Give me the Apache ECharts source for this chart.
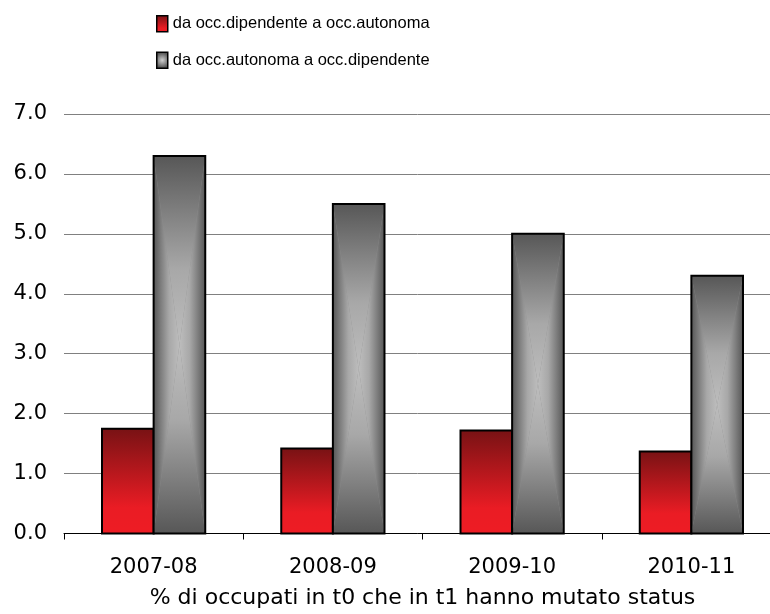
<!DOCTYPE html>
<html>
<head>
<meta charset="utf-8">
<script src="https://cdn.jsdelivr.net/npm/echarts@6/dist/echarts.min.js"></script>
<style>
  html, body { margin: 0; padding: 0; background: #fff; }
  #chart { width: 770px; height: 614px; }
</style>
</head>
<body>
<div id="chart"></div>
<script>
// Share of employed people (t0) who changed status by t1, per period
const categories = ['2007-08', '2008-09', '2009-10', '2010-11'];
const dipToAut = [1.75, 1.42, 1.72, 1.37];   // da occ.dipendente a occ.autonoma
const autToDip = [6.3, 5.5, 5.0, 4.3];       // da occ.autonoma a occ.dipendente
const seriesNames = ['da occ.dipendente a occ.autonoma', 'da occ.autonoma a occ.dipendente'];
const yTicks = [0, 1, 2, 3, 4, 5, 6, 7];
const xTitle = '% di occupati in t0 che in t1 hanno mutato status';

const AXIS_FONT = '"DejaVu Sans", Verdana, sans-serif';
const LEGEND_FONT = '"Liberation Sans", Arial, sans-serif';

const G = echarts.graphic;
const BAR_FRACTION = 0.288;   // width of one bar relative to the category band

const redStops = [
  { offset: 0, color: '#771214' },
  { offset: 0.75, color: '#ea1c24' },
  { offset: 1, color: '#ee1c24' }
];
const grayStops = [
  { offset: 0, color: '#575757' },
  { offset: 0.3, color: '#808080' },
  { offset: 0.6, color: '#a8a8a8' },
  { offset: 1, color: '#bdbdbd' }
];
const redFill = () => new G.LinearGradient(0, 0, 0, 1, redStops);

// Red bar: plain top-to-bottom gradient, left of the category centre
function renderRed(params, api) {
  const i = api.value(0);
  const top = api.coord([i, api.value(1)]);
  const base = api.coord([i, 0]);
  const bw = api.size([1, 0])[0] * BAR_FRACTION;
  const x0 = top[0] - bw, y0 = top[1], h = base[1] - top[1];
  return {
    type: 'rect',
    shape: { x: x0, y: y0, width: bw, height: h },
    style: { fill: redFill(), stroke: '#000', lineWidth: 2 }
  };
}

// Grey bar: path gradient, light in the middle and dark toward every edge
function renderGray(params, api) {
  const i = api.value(0);
  const top = api.coord([i, api.value(1)]);
  const base = api.coord([i, 0]);
  const bw = api.size([1, 0])[0] * BAR_FRACTION;
  const x0 = top[0], x1 = x0 + bw, y0 = top[1], y1 = base[1];
  const xc = (x0 + x1) / 2, yc = (y0 + y1) / 2;
  const tri = (pts, gx, gy, gx2, gy2) => ({
    type: 'polygon',
    shape: { points: pts },
    style: { fill: new G.LinearGradient(gx, gy, gx2, gy2, grayStops), stroke: null }
  });
  return {
    type: 'group',
    children: [
      { type: 'rect', shape: { x: x0, y: y0, width: bw, height: y1 - y0 }, style: { fill: '#8c8c8c' } },
      tri([[x0, y0], [x1, y0], [xc, yc]], 0, 0, 0, 1),
      tri([[x0, y1], [x1, y1], [xc, yc]], 0, 1, 0, 0),
      tri([[x0, y0], [xc, yc], [x0, y1]], 0, 0, 1, 0),
      tri([[x1, y0], [xc, yc], [x1, y1]], 1, 0, 0, 0),
      { type: 'rect', shape: { x: x0, y: y0, width: bw, height: y1 - y0 },
        style: { fill: null, stroke: '#000', lineWidth: 2 } }
    ]
  };
}

const chart = echarts.init(document.getElementById('chart'), null, { renderer: 'canvas' });

chart.setOption({
  animation: false,
  backgroundColor: '#fff',
  legend: {
    orient: 'vertical',
    left: 151,
    top: 10,
    itemWidth: 11,
    itemHeight: 16,
    itemGap: 19,
    icon: 'rect',
    textStyle: { fontFamily: LEGEND_FONT, fontSize: 16.5, color: '#000' },
    data: [
      { name: seriesNames[0], itemStyle: { color: redFill(), borderColor: '#000', borderWidth: 1.5 } },
      { name: seriesNames[1], itemStyle: {
          color: new G.RadialGradient(0.5, 0.5, 0.6, [
            { offset: 0, color: '#cfcfcf' }, { offset: 1, color: '#555' }
          ]),
          borderColor: '#000', borderWidth: 1.5 } }
    ]
  },
  // the plot runs a little past the right edge of the canvas
  grid: { left: 64, width: 717, top: 114, height: 419.5, outerBoundsMode: 'none', containLabel: false },
  xAxis: {
    type: 'category',
    data: categories,
    boundaryGap: true,
    axisLine: { show: true, lineStyle: { color: '#000', width: 1 } },
    axisTick: { show: true, length: 6, lineStyle: { color: '#000' } },
    axisLabel: { margin: 24, fontFamily: AXIS_FONT, fontSize: 21, color: '#000' },
    name: xTitle,
    nameLocation: 'middle',
    nameGap: 54,
    nameTextStyle: { fontFamily: AXIS_FONT, fontSize: 22, color: '#000' },
    splitLine: { show: false }
  },
  yAxis: {
    type: 'value',
    min: yTicks[0],
    max: yTicks[yTicks.length - 1],
    interval: 1,
    axisLine: { show: false },
    axisTick: { show: false },
    axisLabel: {
      margin: 17,
      padding: [5, 0, 0, 0],
      fontFamily: AXIS_FONT, fontSize: 21, color: '#000',
      formatter: v => v.toFixed(1)
    },
    splitLine: { show: true, lineStyle: { color: '#808080', width: 1 } }
  },
  series: [
    {
      name: seriesNames[0],
      type: 'custom',
      renderItem: renderRed,
      itemStyle: { color: redFill() },
      encode: { x: 0, y: 1 },
      data: categories.map((c, i) => [i, dipToAut[i]])
    },
    {
      name: seriesNames[1],
      type: 'custom',
      renderItem: renderGray,
      itemStyle: { color: '#8c8c8c' },
      encode: { x: 0, y: 1 },
      data: categories.map((c, i) => [i, autToDip[i]])
    }
  ]
});
</script>
</body>
</html>
